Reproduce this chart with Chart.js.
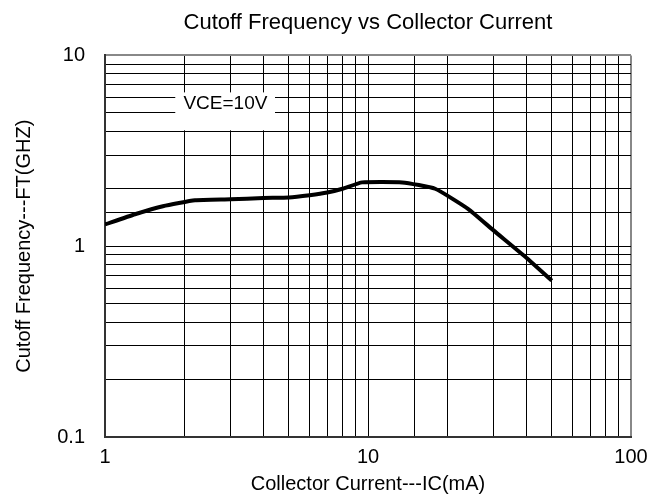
<!DOCTYPE html>
<html>
<head>
<meta charset="utf-8">
<script src="https://cdn.jsdelivr.net/npm/chart.js@4.4.1/dist/chart.umd.min.js"></script>
<style>
  html, body { margin: 0; padding: 0; background: #fff; }
  #wrap { width: 668px; height: 501px; }
</style>
</head>
<body>
<div id="wrap"><canvas id="ftChart"></canvas></div>
<script>
// collector current (mA) and cutoff frequency (GHz)
const collectorCurrent = [1, 1.3, 1.66, 2.2, 3, 4, 5, 6, 7, 8, 9.5, 13.5, 18, 24, 30, 40, 50];
const cutoffFreq = [1.3, 1.47, 1.62, 1.74, 1.76, 1.79, 1.8, 1.85, 1.91, 2.0, 2.16, 2.16, 2.0, 1.57, 1.21, 0.87, 0.66];

const xRange = [1, 100];
const yRange = [0.1, 10];

// the "VCE=10V" note, in data units
const noteText = 'VCE=10V';
const noteAt = [2.87, 5.6];
const noteBox = [1.85, 4.43, 4.05, 6.4]; // x0, x1, y0, y1

Chart.defaults.font.family = "'Liberation Sans', Arial, sans-serif";
Chart.defaults.color = '#000';

const isDecade = v => Math.abs(Math.log10(v) - Math.round(Math.log10(v))) < 1e-9;

const notePlugin = {
  id: 'note',
  beforeDatasetsDraw(chart) {
    const {ctx, scales: {x, y}} = chart;
    const x0 = x.getPixelForValue(noteBox[0]);
    const x1 = x.getPixelForValue(noteBox[1]);
    const y0 = y.getPixelForValue(noteBox[3]);
    const y1 = y.getPixelForValue(noteBox[2]);
    ctx.save();
    ctx.fillStyle = '#fff';
    ctx.fillRect(x0, y0, x1 - x0, y1 - y0);
    ctx.fillStyle = '#000';
    ctx.font = "19px 'Liberation Sans', Arial, sans-serif";
    ctx.textAlign = 'center';
    ctx.textBaseline = 'middle';
    ctx.fillText(noteText, x.getPixelForValue(noteAt[0]), y.getPixelForValue(noteAt[1]));
    ctx.restore();
  }
};

new Chart(document.getElementById('ftChart'), {
  type: 'line',
  data: {
    datasets: [{
      data: collectorCurrent.map((c, i) => ({x: c, y: cutoffFreq[i]})),
      borderColor: '#000',
      borderWidth: 4,
      pointRadius: 0,
      tension: 0.15,
      fill: false
    }]
  },
  plugins: [notePlugin],
  options: {
    responsive: true,
    maintainAspectRatio: false,
    animation: false,
    layout: { padding: { left: 0, right: 37, top: 0, bottom: 0 } },
    plugins: {
      legend: { display: false },
      tooltip: { enabled: false },
      title: {
        display: true,
        fullSize: false,
        text: 'Cutoff Frequency vs Collector Current',
        font: { size: 22, weight: 'normal' },
        padding: { top: 10, bottom: 19 }
      }
    },
    scales: {
      x: {
        type: 'logarithmic',
        min: xRange[0],
        max: xRange[1],
        afterFit(scale) { scale.height = 64; },
        grid: {
          drawTicks: false,
          color: c => (c.tick && c.tick.value === xRange[1]) ? '#888' : '#000',
          lineWidth: c => (c.tick && c.tick.value === xRange[1]) ? 2 : 1
        },
        border: { color: '#333', width: 2 },
        ticks: {
          autoSkip: false,
          maxRotation: 0,
          padding: 8,
          font: { size: 20 },
          callback: v => isDecade(v) ? String(Number(v.toPrecision(3))) : ''
        },
        title: {
          display: true,
          text: 'Collector Current---IC(mA)',
          font: { size: 20 },
          padding: { top: 0, bottom: 5 }
        }
      },
      y: {
        type: 'logarithmic',
        min: yRange[0],
        max: yRange[1],
        afterFit(scale) { scale.width = 105; },
        grid: {
          drawTicks: false,
          color: c => (c.tick && c.tick.value === yRange[1]) ? '#888' : '#000',
          lineWidth: c => (c.tick && c.tick.value === yRange[1]) ? 2 : 1
        },
        border: { color: '#333', width: 2 },
        ticks: {
          autoSkip: false,
          padding: 20,
          font: { size: 20 },
          callback: v => isDecade(v) ? String(Number(v.toPrecision(3))) : ''
        },
        title: {
          display: true,
          text: 'Cutoff Frequency---FT(GHZ)',
          font: { size: 20 },
          padding: { top: 12, bottom: 0 }
        }
      }
    }
  }
});
</script>
</body>
</html>
